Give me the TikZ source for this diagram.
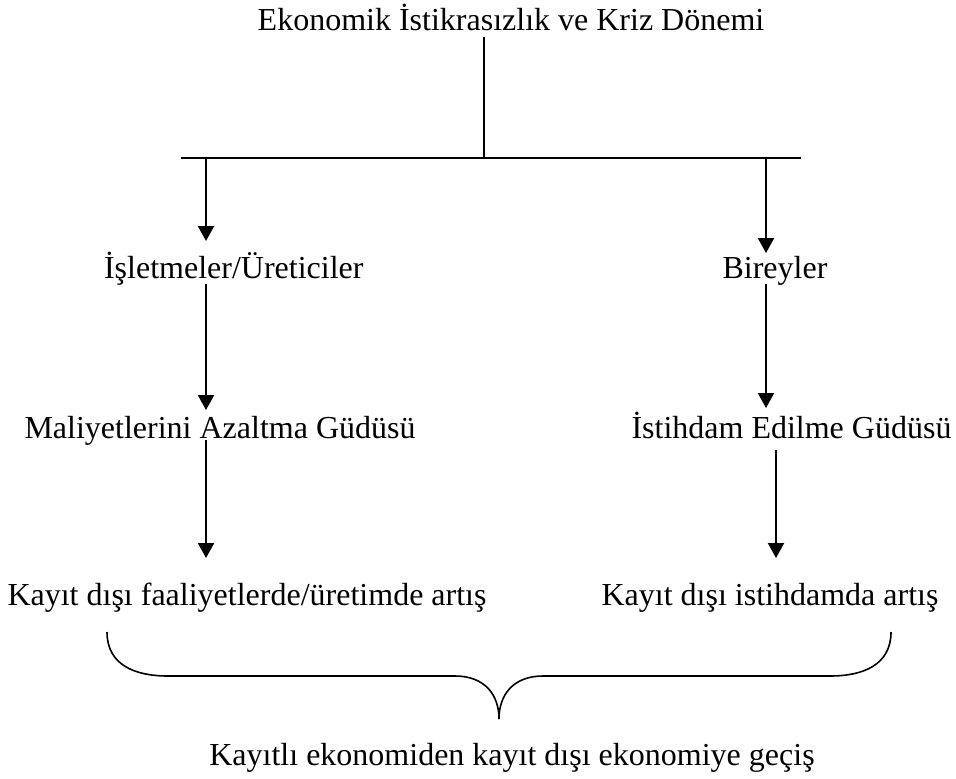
\documentclass[tikz,border=0pt]{standalone}
\usepackage{fontspec}
\setmainfont{Liberation Serif}
\usetikzlibrary{arrows.meta}
\tikzset{
    lbl/.style={inner sep=0pt, font=\fontsize{12}{14}\selectfont},
    arr/.style={line width=0.75pt, -{Triangle[length=5.6pt, width=6pt]}},
}
\begin{document}
\begin{tikzpicture}[x=0.375pt, y=-0.375pt]
    \useasboundingbox (0, 0) rectangle (956, 778);

    \node[lbl, anchor=base] (kriz) at (511, 30) {Ekonomik İstikrasızlık ve Kriz Dönemi};
    \node[lbl, anchor=base east] (isletme) at (364, 278) {İşletmeler/Üreticiler};
    \node[lbl, anchor=base west] (birey) at (722, 278) {Bireyler};
    \node[lbl, anchor=base west] (maliyet) at (24, 438) {Maliyetlerini Azaltma Güdüsü};
    \node[lbl, anchor=base east] (istihdam) at (952, 438) {İstihdam Edilme Güdüsü};
    \node[lbl, anchor=base west] (faaliyet) at (7, 605) {Kayıt dışı faaliyetlerde/üretimde artış};
    \node[lbl, anchor=base east] (artis) at (939, 605) {Kayıt dışı istihdamda artış};
    \node[lbl, anchor=base] (gecis) at (512, 765) {Kayıtlı ekonomiden kayıt dışı ekonomiye geçiş};

    \coordinate (krizalt) at (484, 37);
    \coordinate (kol) at (484, 158);
    \coordinate (kolsol) at (181, 158);
    \coordinate (kolsag) at (801, 158);
    \coordinate (sol1) at (206, 158);
    \coordinate (sol2) at (206, 241);
    \coordinate (sol3) at (206, 284);
    \coordinate (sol4) at (206, 410);
    \coordinate (sol5) at (206, 440);
    \coordinate (sol6) at (206, 558);
    \coordinate (sag1) at (766, 158);
    \coordinate (sag2) at (766, 253);
    \coordinate (sag3) at (766, 284);
    \coordinate (sag4) at (766, 408);
    \coordinate (sag5) at (776, 450);
    \coordinate (sag6) at (776, 558);

    \draw[line width=0.5pt] (krizalt) -- (kol);
    \draw[line width=0.75pt] (kolsol) -- (kolsag);

    \draw[arr] (sol1) -- (sol2);
    \draw[arr] (sol3) -- (sol4);
    \draw[arr] (sol5) -- (sol6);
    \draw[arr] (sag1) -- (sag2);
    \draw[arr] (sag3) -- (sag4);
    \draw[arr] (sag5) -- (sag6);

    % brace
    \draw[line width=0.6pt] (107, 632) .. controls (107, 665) and (135, 676) .. (168, 676)
        -- (455, 676) .. controls (485, 676) and (499, 695) .. (499, 719);
    \draw[line width=0.6pt] (891, 632) .. controls (891, 665) and (863, 676) .. (830, 676)
        -- (543, 676) .. controls (513, 676) and (499, 695) .. (499, 719);
\end{tikzpicture}
\end{document}
